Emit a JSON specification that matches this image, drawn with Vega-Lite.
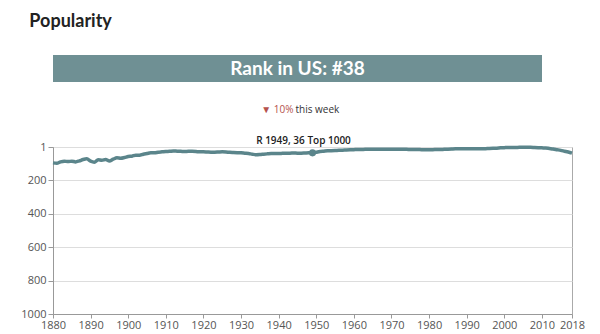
{
  "$schema": "https://vega.github.io/schema/vega-lite/v6.json",
  "padding": {"left": 20, "top": 13, "right": 5, "bottom": 2},
  "background": "white",
  "title": {"text": "Popularity", "anchor": "start", "font": "Lato", "fontSize": 18, "fontWeight": "bold", "color": "#222", "offset": 24, "dx": 9},
  "spacing": 0,
  "config": {"font": "Open Sans", "view": {"stroke": null}},
  "vconcat": [
    {
      "width": 489,
      "height": 27,
      "view": {"fill": "#6f9094", "stroke": null},
      "data": {"values": [{"label": "Rank in US: #38"}]},
      "mark": {"type": "text", "font": "Lato", "fontSize": 19, "fontWeight": "bold", "color": "white", "baseline": "middle"},
      "encoding": {"text": {"field": "label"}}
    },
    {
      "width": 489,
      "height": 53,
      "data": {"values": [{"part": "▼ 10%", "side": "left"}, {"part": "this week", "side": "right"}]},
      "layer": [
        {
          "transform": [{"filter": "datum.side == 'left'"}],
          "mark": {"type": "text", "align": "right", "baseline": "middle", "fontSize": 10, "color": "#b5524c", "dx": -4, "dy": 1.5},
          "encoding": {"text": {"field": "part"}}
        },
        {
          "transform": [{"filter": "datum.side == 'right'"}],
          "mark": {"type": "text", "align": "left", "baseline": "middle", "fontSize": 10, "color": "#333", "dx": -2, "dy": 1.5},
          "encoding": {"text": {"field": "part"}}
        }
      ]
    },
    {
      "width": 519,
      "height": 167,
      "view": {"stroke": "#aaa", "strokeWidth": 1},
      "title": {"text": "R 1949, 36 Top 1000", "fontSize": 10, "fontWeight": 600, "color": "#222", "anchor": "middle", "dx": -9, "offset": -6},
      "data": {"values": [
        {"year":1880,"rank":96},{"year":1881,"rank":98},{"year":1882,"rank":90},{"year":1883,"rank":86},{"year":1884,"rank":88},{"year":1885,"rank":86},{"year":1886,"rank":90},{"year":1887,"rank":84},{"year":1888,"rank":76},{"year":1889,"rank":72},
        {"year":1890,"rank":86},{"year":1891,"rank":92},{"year":1892,"rank":78},{"year":1893,"rank":80},{"year":1894,"rank":76},{"year":1895,"rank":84},{"year":1896,"rank":74},{"year":1897,"rank":66},{"year":1898,"rank":68},{"year":1899,"rank":64},
        {"year":1900,"rank":58},{"year":1901,"rank":56},{"year":1902,"rank":50},{"year":1903,"rank":50},{"year":1904,"rank":44},{"year":1905,"rank":40},{"year":1906,"rank":36},{"year":1907,"rank":36},{"year":1908,"rank":32},{"year":1909,"rank":30},
        {"year":1910,"rank":28},{"year":1911,"rank":27},{"year":1912,"rank":25},{"year":1913,"rank":26},{"year":1914,"rank":27},{"year":1915,"rank":28},{"year":1916,"rank":27},{"year":1917,"rank":27},{"year":1918,"rank":28},{"year":1919,"rank":30},
        {"year":1920,"rank":30},{"year":1921,"rank":31},{"year":1922,"rank":32},{"year":1923,"rank":32},{"year":1924,"rank":31},{"year":1925,"rank":30},{"year":1926,"rank":31},{"year":1927,"rank":33},{"year":1928,"rank":34},{"year":1929,"rank":35},
        {"year":1930,"rank":36},{"year":1931,"rank":38},{"year":1932,"rank":40},{"year":1933,"rank":44},{"year":1934,"rank":47},{"year":1935,"rank":46},{"year":1936,"rank":44},{"year":1937,"rank":42},{"year":1938,"rank":40},{"year":1939,"rank":40},
        {"year":1940,"rank":40},{"year":1941,"rank":39},{"year":1942,"rank":38},{"year":1943,"rank":38},{"year":1944,"rank":37},{"year":1945,"rank":38},{"year":1946,"rank":38},{"year":1947,"rank":37},{"year":1948,"rank":36},{"year":1949,"rank":36},
        {"year":1950,"rank":32},{"year":1951,"rank":28},{"year":1952,"rank":26},{"year":1953,"rank":24},{"year":1954,"rank":23},{"year":1955,"rank":22},{"year":1956,"rank":21},{"year":1957,"rank":20},{"year":1958,"rank":19},{"year":1959,"rank":18},
        {"year":1960,"rank":17},{"year":1961,"rank":16},{"year":1962,"rank":16},{"year":1963,"rank":15},{"year":1964,"rank":15},{"year":1965,"rank":14},{"year":1966,"rank":14},{"year":1967,"rank":14},{"year":1968,"rank":14},{"year":1969,"rank":14},
        {"year":1970,"rank":14},{"year":1971,"rank":15},{"year":1972,"rank":15},{"year":1973,"rank":15},{"year":1974,"rank":15},{"year":1975,"rank":16},{"year":1976,"rank":16},{"year":1977,"rank":16},{"year":1978,"rank":17},{"year":1979,"rank":17},
        {"year":1980,"rank":17},{"year":1981,"rank":17},{"year":1982,"rank":16},{"year":1983,"rank":16},{"year":1984,"rank":15},{"year":1985,"rank":14},{"year":1986,"rank":13},{"year":1987,"rank":12},{"year":1988,"rank":12},{"year":1989,"rank":11},
        {"year":1990,"rank":11},{"year":1991,"rank":12},{"year":1992,"rank":12},{"year":1993,"rank":12},{"year":1994,"rank":12},{"year":1995,"rank":11},{"year":1996,"rank":10},{"year":1997,"rank":9},{"year":1998,"rank":8},{"year":1999,"rank":6},
        {"year":2000,"rank":5},{"year":2001,"rank":4},{"year":2002,"rank":4},{"year":2003,"rank":4},{"year":2004,"rank":3},{"year":2005,"rank":3},{"year":2006,"rank":3},{"year":2007,"rank":3},{"year":2008,"rank":4},{"year":2009,"rank":5},
        {"year":2010,"rank":6},{"year":2011,"rank":7},{"year":2012,"rank":10},{"year":2013,"rank":13},{"year":2014,"rank":17},{"year":2015,"rank":21},{"year":2016,"rank":26},{"year":2017,"rank":31},{"year":2018,"rank":38}
      ]},
      "encoding": {
        "x": {"field": "year", "type": "quantitative", "scale": {"domain": [1880, 2018], "nice": false, "zero": false},
              "axis": {"title": null, "values": [1880,1890,1900,1910,1920,1930,1940,1950,1960,1970,1980,1990,2000,2010,2018], "format": "d", "grid": false,
                       "domainColor": "#999", "tickColor": "#999", "tickSize": 4, "labelFontSize": 11, "labelColor": "#555", "labelPadding": 1, "labelFlush": false}},
        "y": {"field": "rank", "type": "quantitative", "scale": {"domain": [1, 1000], "reverse": true, "nice": false, "zero": false},
              "axis": {"title": null, "values": [1,200,400,600,800,1000], "format": "d", "grid": true, "gridColor": "#ddd", "domainColor": "#999", "tickColor": "#999", "tickSize": 5,
                       "labelFontSize": 11, "labelColor": "#555", "labelPadding": 2}}
      },
      "layer": [
        {"mark": {"type": "line", "color": "#5b858b", "strokeWidth": 3.5, "interpolate": "monotone"}},
        {"transform": [{"filter": "datum.year == 1949"}], "mark": {"type": "point", "filled": true, "color": "#5b858b", "size": 50, "opacity": 1}}
      ]
    }
  ]
}
